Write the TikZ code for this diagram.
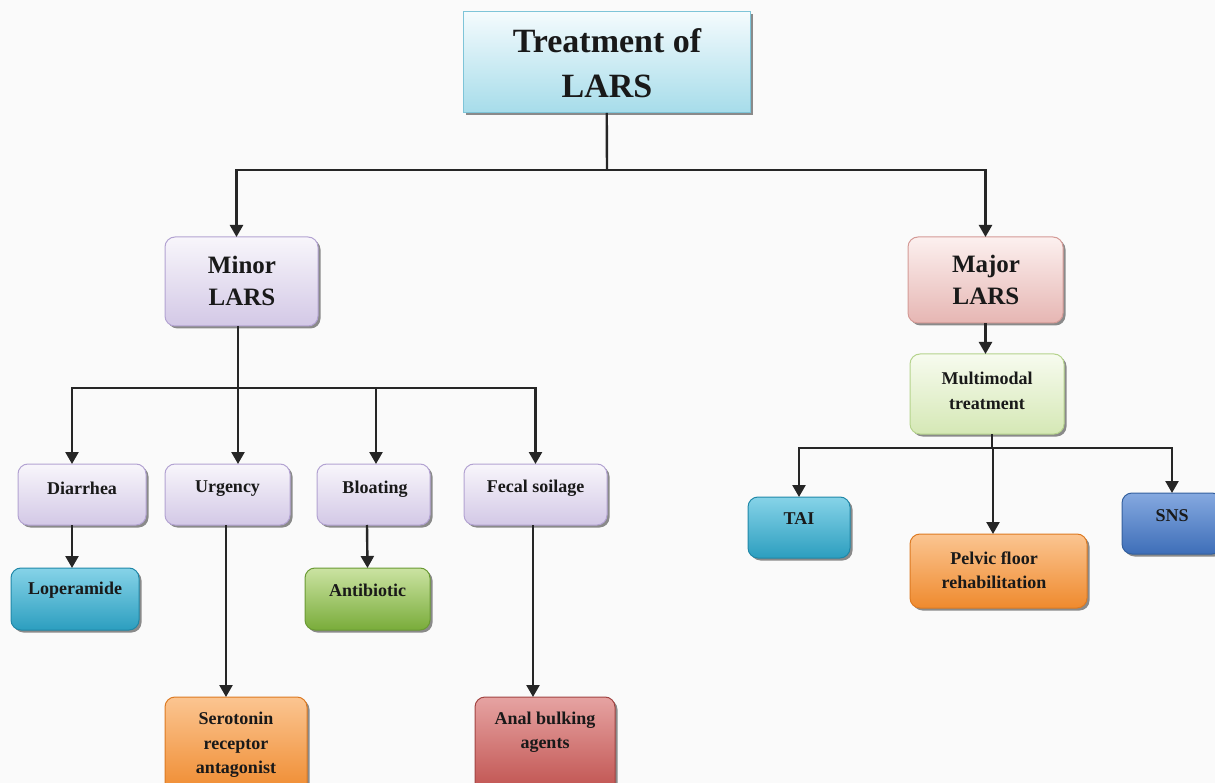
\documentclass[tikz,border=0pt]{standalone}
\usepackage{fontspec}
\setmainfont{Liberation Serif}
\usetikzlibrary{arrows.meta,shadows}
\definecolor{lavtop}{HTML}{F8F6FB}\definecolor{lavbot}{HTML}{D3C8E6}\definecolor{lavborder}{HTML}{B3A3D2}
\definecolor{skytop}{HTML}{F4FBFD}\definecolor{skybot}{HTML}{A6DCEA}\definecolor{skyborder}{HTML}{7EC4D8}
\definecolor{pinktop}{HTML}{FCF0EF}\definecolor{pinkbot}{HTML}{E6B6B3}\definecolor{pinkborder}{HTML}{D49A96}
\definecolor{lgrtop}{HTML}{F7FBEF}\definecolor{lgrbot}{HTML}{D5E8B5}\definecolor{lgrborder}{HTML}{B5D38C}
\definecolor{cyantop}{HTML}{86D3E8}\definecolor{cyanbot}{HTML}{2C9EBF}\definecolor{cyanborder}{HTML}{2088A8}
\definecolor{greentop}{HTML}{CBE3A2}\definecolor{greenbot}{HTML}{79AC3A}\definecolor{greenborder}{HTML}{6A9A34}
\definecolor{orangetop}{HTML}{FBC591}\definecolor{orangebot}{HTML}{EF8A2E}\definecolor{orangeborder}{HTML}{DD7A22}
\definecolor{redtop}{HTML}{E6A3A2}\definecolor{redbot}{HTML}{BF504D}\definecolor{redborder}{HTML}{A24442}
\definecolor{bluetop}{HTML}{85A9E0}\definecolor{bluebot}{HTML}{3E6EB8}\definecolor{blueborder}{HTML}{34609E}
\tikzset{
  box/.style={draw=#1border, line width=1pt, rounded corners=10pt, top color=#1top, bottom color=#1bot,
    inner sep=0pt, outer sep=0pt,
    drop shadow={shadow xshift=2.5pt, shadow yshift=-2.5pt, fill=black!75, opacity=0.6}},
  lbl/.style={font=\bfseries\fontsize{18}{24.5}\selectfont, align=center, text=black!90, inner sep=0pt},
  big/.style={font=\bfseries\fontsize{25}{32}\selectfont, align=center, text=black!90, inner sep=0pt},
  conn/.style={line width=2.4pt, black!85},
  arr/.style={conn, -{Triangle[length=12pt,width=13pt]}},
}
\begin{document}
\begin{tikzpicture}[x=1pt,y=-1pt]
\useasboundingbox (0,0) rectangle (1215,783);
\fill[white!98!black] (0,0) rectangle (1215,783);
% top box
\node[box=sky, rounded corners=0pt, minimum width=287, minimum height=101] (top) at (606.5,62.5) {};
\node[font=\bfseries\fontsize{34}{45}\selectfont, align=center, inner sep=0pt, text=black!90] (topT) at (607,63) {Treatment of\\LARS};
% level 1
\node[box=lav, minimum width=153, minimum height=89] (minor) at (241.5,281.5) {};
\node[big] (minorT) at (242,281) {Minor\\LARS};
\node[box=pink, minimum width=155, minimum height=86] (major) at (985.5,280) {};
\node[big] (majorT) at (986,280) {Major\\LARS};
\node[box=lgr, minimum width=154, minimum height=80] (multi) at (987,394) {};
\node[lbl] (multiT) at (987,391) {Multimodal\\treatment};
% level 2 minor
\node[box=lav, minimum width=128, minimum height=61] (diar) at (82,494.5) {};
\node[lbl] (diarT) at (82,488) {Diarrhea};
\node[box=lav, minimum width=125, minimum height=61] (urg) at (227.5,494.5) {};
\node[lbl] (urgT) at (227.5,489) {Urgency};
\node[box=lav, minimum width=113, minimum height=61] (bloat) at (373.5,494.5) {};
\node[lbl] (bloatT) at (375,489) {Bloating};
\node[box=lav, minimum width=143, minimum height=61] (fecal) at (535.5,494.5) {};
\node[lbl] (fecalT) at (535.5,488) {Fecal soilage};
% level 3 minor
\node[box=cyan, minimum width=128, minimum height=62] (lop) at (75,599) {};
\node[lbl] (lopT) at (75,590) {Loperamide};
\node[box=green, minimum width=125, minimum height=62] (anti) at (367.5,599) {};
\node[lbl] (antiT) at (367.5,590) {Antibiotic};
\node[box=orange, minimum width=142, minimum height=98] (sero) at (236,746) {};
\node[lbl] (seroT) at (236,745) {Serotonin\\receptor\\antagonist};
\node[box=red, minimum width=140, minimum height=98] (anal) at (545,746) {};
\node[lbl] (analT) at (545,732) {Anal bulking\\agents};
% level 3 major
\node[box=cyan, minimum width=102, minimum height=61] (tai) at (799,527.5) {};
\node[lbl] (taiT) at (799,519) {TAI};
\node[box=orange, minimum width=177, minimum height=74] (pelvic) at (998.5,571) {};
\node[lbl] (pelvicT) at (994,570) {Pelvic floor\\rehabilitation};
\node[box=blue, minimum width=100, minimum height=61] (sns) at (1172,523.5) {};
\node[lbl] (snsT) at (1172,516) {SNS};
% connectors
\coordinate (j1) at (607,170);
\draw[conn] (top) -- (j1);
\draw[arr] (j1) -| ([xshift=-5pt]minor.north);
\draw[arr] (j1) -| (major.north);
\coordinate (j2) at (238,388);
\draw[conn] ([xshift=-3.5pt]minor.south) -- (j2);
\draw[arr] (j2) -| ([xshift=-10pt]diar.north);
\draw[arr] (j2) -| ([xshift=10.5pt]urg.north);
\draw[arr] (j2) -| ([xshift=2.5pt]bloat.north);
\draw[arr] (j2) -| (fecal.north);
\draw[arr] ([xshift=-10pt]diar.south) -- ([xshift=-3pt]lop.north);
\draw[arr] ([xshift=-1.5pt]urg.south) -- ([xshift=-10pt]sero.north);
\draw[arr] ([xshift=-6.5pt]bloat.south) -- (anti.north);
\draw[arr] ([xshift=-2.5pt]fecal.south) -- ([xshift=-12pt]anal.north);
\draw[arr] (major.south) -- ([xshift=-1.5pt]multi.north);
\coordinate (j3) at (992,448);
\draw[conn] ([xshift=5pt]multi.south) -- (j3);
\draw[arr] (j3) -| (tai.north);
\draw[arr] (j3) -| ([xshift=-5.5pt]pelvic.north);
\draw[arr] (j3) -| (sns.north);
\end{tikzpicture}
\end{document}
